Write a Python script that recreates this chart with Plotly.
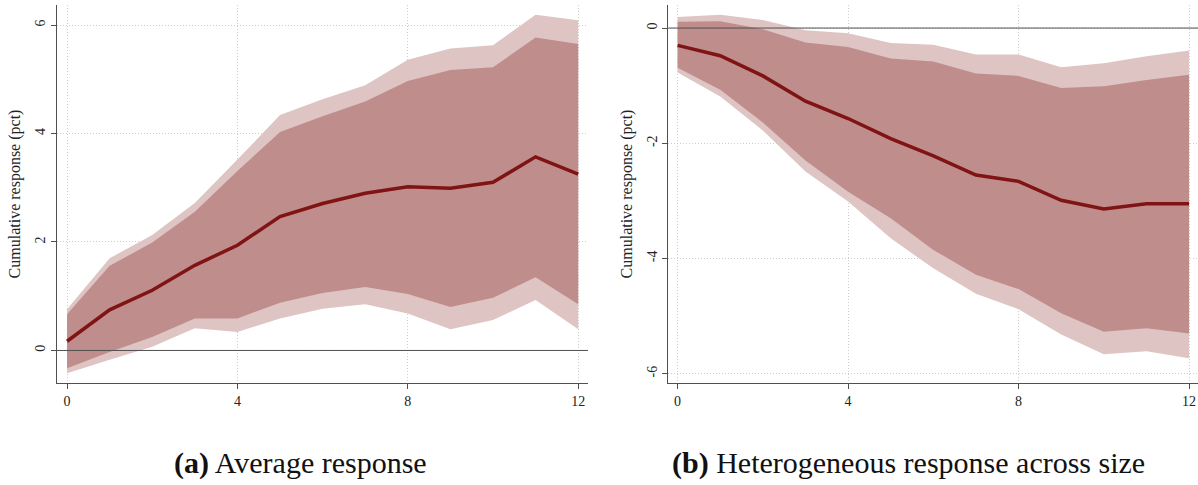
import plotly.graph_objects as go

# Horizons (quarters after the shock)
horizon = list(range(13))

# Panel (a): average response
avg_point = [0.17, 0.75, 1.11, 1.57, 1.94, 2.47, 2.71, 2.90, 3.02, 2.99, 3.10, 3.57, 3.25]
avg_in_hi = [0.67, 1.56, 1.99, 2.56, 3.31, 4.03, 4.32, 4.59, 4.97, 5.17, 5.22, 5.77, 5.65]
avg_in_lo = [-0.33, -0.03, 0.25, 0.59, 0.59, 0.88, 1.06, 1.17, 1.04, 0.80, 0.97, 1.35, 0.85]
avg_out_hi = [0.76, 1.70, 2.13, 2.72, 3.52, 4.34, 4.63, 4.89, 5.36, 5.57, 5.63, 6.19, 6.09]
avg_out_lo = [-0.42, -0.17, 0.07, 0.41, 0.34, 0.59, 0.77, 0.85, 0.68, 0.39, 0.56, 0.93, 0.39]

# Panel (b): heterogeneous response across size
het_point = [-0.30, -0.48, -0.83, -1.27, -1.57, -1.92, -2.22, -2.55, -2.66, -2.99, -3.14, -3.05, -3.05]
het_in_hi = [0.11, 0.12, -0.02, -0.25, -0.33, -0.53, -0.58, -0.79, -0.83, -1.04, -1.01, -0.90, -0.81]
het_in_lo = [-0.69, -1.07, -1.64, -2.30, -2.84, -3.30, -3.85, -4.28, -4.53, -4.95, -5.27, -5.21, -5.30]
het_out_hi = [0.19, 0.23, 0.14, -0.04, -0.09, -0.26, -0.29, -0.46, -0.46, -0.68, -0.61, -0.49, -0.39]
het_out_lo = [-0.77, -1.19, -1.78, -2.49, -3.01, -3.65, -4.17, -4.61, -4.88, -5.32, -5.66, -5.61, -5.73]

x_ticks = [0, 4, 8, 12]
avg_y_ticks = [0, 2, 4, 6]
het_y_ticks = [0, -2, -4, -6]

captions = ["<b>(a)</b> Average response", "<b>(b)</b> Heterogeneous response across size"]
y_title = "Cumulative response (pct)"

LINE = "rgb(128,20,20)"
INNER = "rgb(192,141,141)"
OUTER = "rgb(223,196,196)"
AXIS = "rgb(80,80,80)"
GRID = "rgb(205,205,205)"
FONT = "Liberation Serif"

fig = go.Figure()


def add_panel(xa, ya, point, in_hi, in_lo, out_hi, out_lo):
    xs = horizon + horizon[::-1]
    fig.add_trace(go.Scatter(x=xs, y=out_hi + out_lo[::-1], fill="toself",
                             fillcolor=OUTER, line=dict(width=0), mode="lines",
                             hoverinfo="skip", showlegend=False, xaxis=xa, yaxis=ya))
    fig.add_trace(go.Scatter(x=xs, y=in_hi + in_lo[::-1], fill="toself",
                             fillcolor=INNER, line=dict(width=0), mode="lines",
                             hoverinfo="skip", showlegend=False, xaxis=xa, yaxis=ya))
    fig.add_trace(go.Scatter(x=horizon, y=point, mode="lines",
                             line=dict(color=LINE, width=3.5),
                             showlegend=False, xaxis=xa, yaxis=ya))


add_panel("x", "y", avg_point, avg_in_hi, avg_in_lo, avg_out_hi, avg_out_lo)
add_panel("x2", "y2", het_point, het_in_hi, het_in_lo, het_out_hi, het_out_lo)

xaxis_common = dict(
    tickvals=x_ticks, ticks="outside", ticklen=5, tickcolor=AXIS,
    showline=True, linecolor=AXIS, linewidth=1,
    showgrid=True, gridcolor=GRID, griddash="1px,2px", gridwidth=1,
    zeroline=False, tickfont=dict(family=FONT, size=14, color="#222"),
)
yaxis_common = dict(
    ticks="outside", ticklen=5, tickcolor=AXIS, tickangle=-90,
    showline=True, linecolor=AXIS, linewidth=1,
    showgrid=True, gridcolor=GRID, griddash="1px,2px", gridwidth=1,
    zeroline=False, tickfont=dict(family=FONT, size=14, color="#222"),
    title=dict(text=y_title, font=dict(family=FONT, size=16, color="#222"), standoff=8),
)

y_dom = [0.2103, 0.9897]
fig.update_layout(
    width=1198, height=485,
    margin=dict(l=0, r=0, t=0, b=0),
    paper_bgcolor="white", plot_bgcolor="white",
    xaxis=dict(domain=[0.0476, 0.4908], range=[-0.235, 12.23], anchor="y", **xaxis_common),
    yaxis=dict(domain=y_dom, range=[-0.6, 6.37], tickvals=avg_y_ticks,
               ticktext=[str(v) for v in avg_y_ticks], anchor="x", **yaxis_common),
    xaxis2=dict(domain=[0.5578, 1.0], range=[-0.22, 12.21], anchor="y2", **xaxis_common),
    yaxis2=dict(domain=y_dom, range=[-6.16, 0.40], tickvals=het_y_ticks,
                ticktext=[str(v) for v in het_y_ticks], anchor="x2", **yaxis_common),
)

# Horizontal reference line at zero, drawn over the bands
for xr, yr in [("x domain", "y"), ("x2 domain", "y2")]:
    fig.add_shape(type="line", xref=xr, yref=yr, x0=0, x1=1, y0=0, y1=0,
                  line=dict(color=AXIS, width=1), layer="above")

# Panel captions
for cx, text in zip([0.2505, 0.758], captions):
    fig.add_annotation(x=cx, y=1 - 463 / 485, xref="paper", yref="paper", text=text,
                       showarrow=False, font=dict(family=FONT, size=30, color="#111"),
                       xanchor="center", yanchor="middle")

fig.write_html("out.html")
